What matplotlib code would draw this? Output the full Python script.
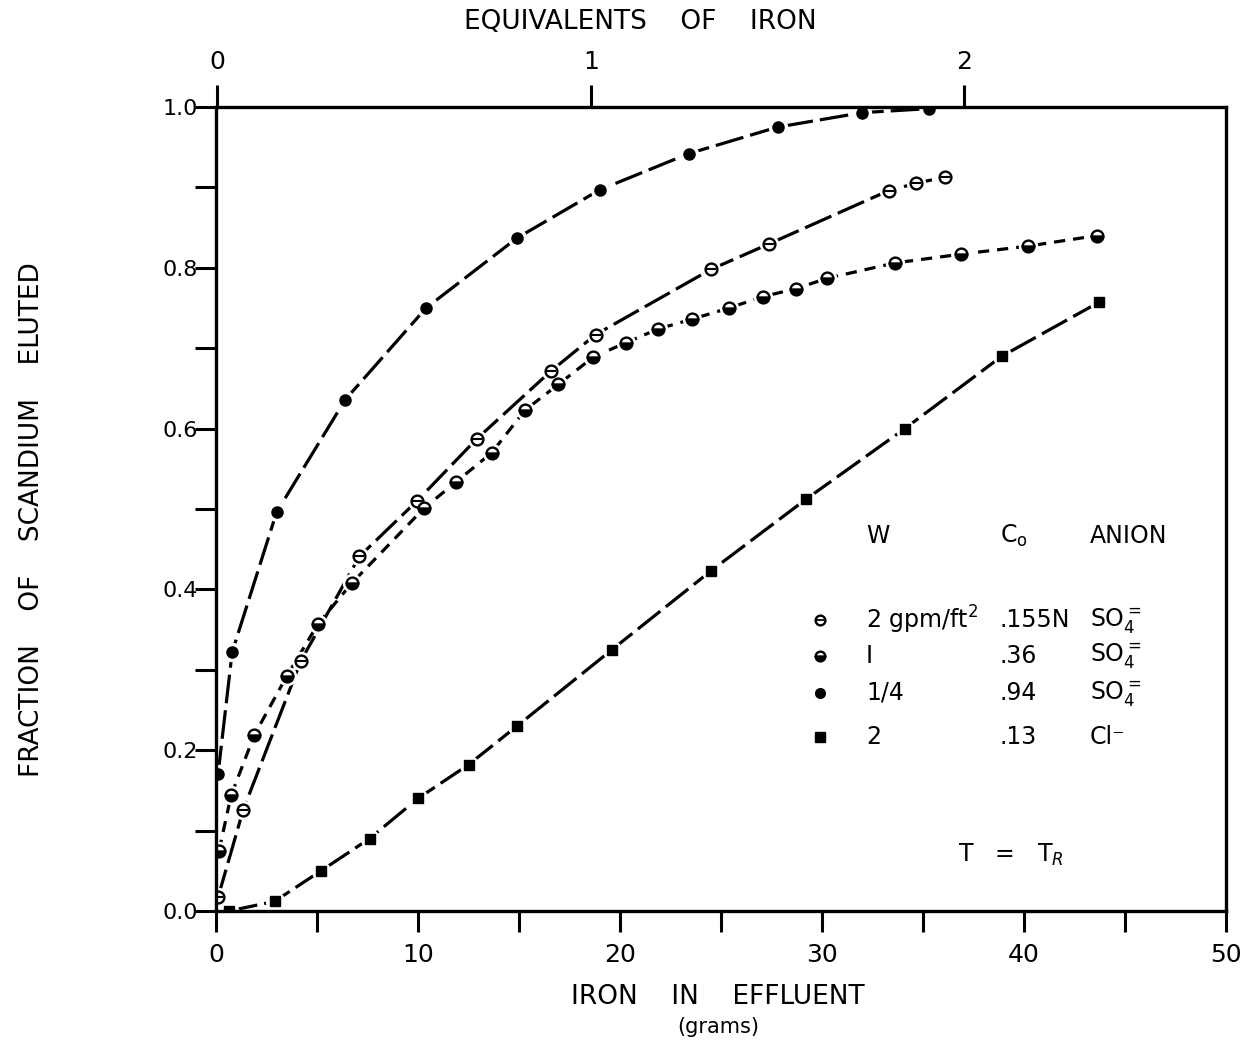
import matplotlib.pyplot as plt
import numpy as np

# Datos (x = hierro en efluente, g ; y = fraccion eluida)
quarter_x = [0.1, 0.8, 3.0, 6.4, 10.4, 14.9, 19.0, 23.4, 27.8, 32.0, 35.3]
quarter_y = [0.17, 0.322, 0.496, 0.636, 0.75, 0.837, 0.897, 0.942, 0.975, 0.993, 0.998]

two_gpm_x = [0.1, 1.35, 4.2, 7.1, 9.95, 12.9, 16.6, 18.8, 24.5, 27.4, 33.3, 34.65, 36.1]
two_gpm_y = [0.017, 0.126, 0.311, 0.441, 0.51, 0.587, 0.672, 0.717, 0.798, 0.83, 0.896, 0.905, 0.913]

one_x = [0.15, 0.75, 1.9, 3.5, 5.05, 6.73, 10.3, 11.9, 13.65, 15.3, 16.95, 18.68,
         20.3, 21.9, 23.55, 25.4, 27.06, 28.7, 30.26, 33.6, 36.9, 40.2, 43.6]
one_y = [0.075, 0.144, 0.219, 0.292, 0.357, 0.408, 0.501, 0.534, 0.570, 0.623, 0.655, 0.689,
         0.707, 0.724, 0.736, 0.75, 0.764, 0.774, 0.787, 0.806, 0.817, 0.827, 0.84]

cl_x = [0.65, 2.9, 5.2, 7.6, 10.0, 12.5, 14.9, 19.6, 24.5, 29.2, 34.1, 38.9, 43.7]
cl_y = [0.0, 0.012, 0.05, 0.09, 0.14, 0.182, 0.23, 0.325, 0.423, 0.512, 0.60, 0.69, 0.757]

x_ticks = [0, 5, 10, 15, 20, 25, 30, 35, 40, 45, 50]
x_labels = ['0', '', '10', '', '20', '', '30', '', '40', '', '50']
y_ticks = [0.0, 0.1, 0.2, 0.3, 0.4, 0.5, 0.6, 0.7, 0.8, 0.9, 1.0]
y_labels = ['0.0', '', '0.2', '', '0.4', '', '0.6', '', '0.8', '', '1.0']
eq_ticks = [0, 1, 2]
grams_per_eq = 18.5

legend_w = ['2 gpm/ft$^2$', 'I', '1/4', '2']
legend_c = ['.155N', '.36', '.94', '.13']
legend_an = ['SO$_4^=$', 'SO$_4^=$', 'SO$_4^=$', 'Cl\u207b']

plt.rcParams['font.family'] = ['DejaVu Sans']
plt.rcParams['mathtext.fontset'] = 'dejavusans'

W, H = 1247, 1046
fig = plt.figure(figsize=(W / 100, H / 100), dpi=100)
ax = fig.add_axes([216 / W, 1 - 911 / H, 1010 / W, 804 / H])

dash_long = (9, 2.2)
dash_short = (3.5, 2.5)

series = [
    (quarter_x, quarter_y, dash_long, dict(marker='o', ms=8, mfc='black', mec='black')),
    (two_gpm_x, two_gpm_y, dash_long, dict(marker='o', ms=8.5, mfc='white', mec='black', mew=1.7)),
    (one_x, one_y, dash_short, dict(marker='o', ms=8.5, mfc='black', mec='black', mew=1.7,
                                    fillstyle='bottom', markerfacecoloralt='white')),
    (cl_x, cl_y, dash_long, dict(marker='s', ms=7.5, mfc='black', mec='black')),
]

for xs, ys, dsh, mk in series:
    ax.plot(xs, ys, color='black', lw=2.3, dashes=dsh, zorder=2, solid_capstyle='butt')
    ax.plot(xs, ys, 'o', color='white', ms=13, zorder=3)
    ax.plot(xs, ys, ls='none', zorder=4, **mk)

# barra horizontal del simbolo de 2 gpm
ax.plot(two_gpm_x, two_gpm_y, ls='none', marker='_', ms=7, mew=1.5, color='black', zorder=5)

ax.set_xlim(0, 50)
ax.set_ylim(0, 1.0)
ax.set_xticks(x_ticks)
ax.set_xticklabels(x_labels, fontsize=18)
ax.set_yticks(y_ticks)
ax.set_yticklabels(y_labels, fontsize=16)
ax.tick_params(axis='x', direction='out', length=15, width=2.2, pad=8)
ax.tick_params(axis='y', direction='out', length=15, width=2.2, pad=-2)
for sp in ax.spines.values():
    sp.set_linewidth(2.4)
    sp.set_zorder(10)

top = ax.secondary_xaxis('top', functions=(lambda g: (g - 0.05) / grams_per_eq,
                                           lambda e: e * grams_per_eq + 0.05))
top.set_xticks(eq_ticks)
top.set_xticklabels([str(t) for t in eq_ticks], fontsize=18)
top.tick_params(direction='out', length=16, width=2.2, pad=8)

# etiquetas de ejes
fig.text(718 / W, 1 - 997 / H, 'IRON    IN    EFFLUENT', ha='center', va='center', fontsize=19)
fig.text(718 / W, 1 - 1027 / H, '(grams)', ha='center', va='center', fontsize=15)
fig.text(640 / W, 1 - 22 / H, 'EQUIVALENTS    OF    IRON', ha='center', va='center', fontsize=19)
fig.text(32 / W, 1 - 520 / H, 'FRACTION    OF    SCANDIUM    ELUTED', ha='center', va='center',
         rotation=90, fontsize=19)

# tabla de leyenda
def ax_pt(px, py):
    return (px - 216) / 1010, (911 - py) / 804

hx, hy = ax_pt(866, 536)
ax.text(hx, hy, 'W', transform=ax.transAxes, fontsize=17, va='center')
ax.text(ax_pt(1000, 536)[0], hy, 'C$_\\mathrm{o}$', transform=ax.transAxes, fontsize=17, va='center')
ax.text(ax_pt(1090, 536)[0], hy, 'ANION', transform=ax.transAxes, fontsize=17, va='center')

row_py = [620, 656, 693, 737]
marker_styles = [series[1][3], series[2][3], series[0][3], series[3][3]]
for i, py in enumerate(row_py):
    mx, my = ax_pt(820, py)
    st = dict(marker_styles[i])
    st['ms'] = 7
    ax.plot([mx], [my], ls='none', transform=ax.transAxes, **st)
    if i == 0:
        ax.plot([mx], [my], ls='none', marker='_', ms=5.5, mew=1.3, color='black',
                transform=ax.transAxes)
    ax.text(ax_pt(866, py)[0], my, legend_w[i], transform=ax.transAxes, fontsize=17, va='center')
    ax.text(ax_pt(1000, py)[0], my, legend_c[i], transform=ax.transAxes, fontsize=17, va='center')
    ax.text(ax_pt(1090, py)[0], my, legend_an[i], transform=ax.transAxes, fontsize=17, va='center')

tx, ty = ax_pt(958, 855)
ax.text(tx, ty, 'T   =   T$_R$', transform=ax.transAxes, fontsize=17, va='center')

fig.savefig('out.png', dpi=100)
